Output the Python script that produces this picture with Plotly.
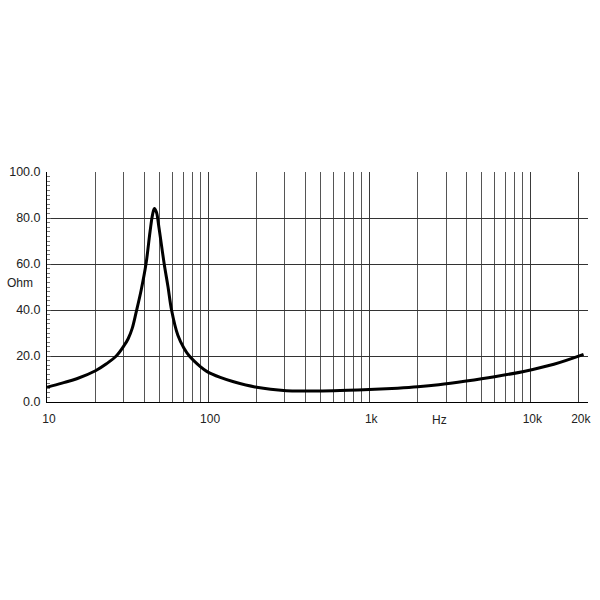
import plotly.graph_objects as go

# Impedance curve
freq_hz = [10, 12.4, 15.3, 20, 23.4, 26.9, 30.2, 31.9, 33.8, 35.8, 38.4, 41.2, 43.6, 45.2, 46.4,
           47.8, 49.5, 53.4, 56.4, 59.3, 64.9, 70.7, 76.5, 89.8, 98.6, 119, 144, 200, 306, 400,
           600, 1000, 1500, 2000, 2700, 4000, 6000, 9100, 14000, 21400]
impedance_ohm = [6.4, 8.2, 10.1, 13.6, 16.6, 20.0, 24.7, 27.5, 32.0, 39.2, 48.6, 60.2, 74.0, 81.5, 84.1,
                 82.5, 76.0, 60.0, 50.0, 40.0, 29.0, 23.5, 20.0, 15.3, 13.2, 10.7, 8.8, 6.4, 4.9, 4.75,
                 4.85, 5.4, 6.0, 6.6, 7.5, 9.1, 11.0, 13.3, 16.4, 20.7]

x_major_vals = [10, 100, 1000, 10000, 20000]
x_major_text = ["10", "100", "1k", "10k", "20k"]
x_minor_vals = [20, 30, 40, 50, 60, 70, 80, 90,
                200, 300, 400, 500, 600, 700, 800, 900,
                2000, 3000, 4000, 5000, 6000, 7000, 8000, 9000]
y_vals = [0, 20, 40, 60, 80, 100]
y_text = ["0.0", "20.0", "40.0", "60.0", "80.0", "100.0"]

FONT = "Liberation Sans, Arial, sans-serif"

fig = go.Figure()
fig.add_trace(go.Scatter(
    x=freq_hz, y=impedance_ohm, mode="lines",
    line=dict(color="black", width=3, shape="spline", smoothing=1.0),
    hoverinfo="skip", showlegend=False,
))

fig.update_layout(
    width=600, height=600, autosize=False,
    margin=dict(l=45, r=9, t=172, b=198, pad=0),
    paper_bgcolor="white", plot_bgcolor="white",
    font=dict(family=FONT, size=12, color="#222"),
    showlegend=False,
)

fig.update_xaxes(
    type="log", range=[1, 4.358],
    tickmode="array", tickvals=x_major_vals, ticktext=x_major_text,
    ticks="", showgrid=True, gridcolor="#3a3a3a", gridwidth=1,
    minor=dict(tickmode="array", tickvals=x_minor_vals, showgrid=True,
               gridcolor="#555555", gridwidth=1, ticks=""),
    showline=True, linecolor="black", linewidth=1,
    zeroline=False, ticklabelstandoff=6, ticklabelshift=2,
    tickfont=dict(family=FONT, size=12, color="#222"),
)

fig.update_yaxes(
    range=[0, 100],
    tickmode="array", tickvals=y_vals, ticktext=y_text,
    ticks="inside", ticklen=4, tickcolor="#555",
    showgrid=True, gridcolor="#333333", gridwidth=1,
    minor=dict(dtick=2, ticks="inside", ticklen=3, tickcolor="#777", showgrid=False),
    showline=True, linecolor="black", linewidth=1,
    zeroline=False, ticklabelstandoff=3,
    tickfont=dict(family=FONT, size=12.5, color="#222"),
)

fig.add_annotation(text="Hz", xref="paper", yref="paper", x=0.7253, y=-0.078,
                   showarrow=False, xanchor="center", yanchor="middle",
                   font=dict(family=FONT, size=12, color="#222"))
fig.add_annotation(text="Ohm", xref="paper", yref="paper", x=-0.0504, y=0.5167,
                   showarrow=False, xanchor="center", yanchor="middle",
                   font=dict(family=FONT, size=12, color="#222"))

fig.write_html("out.html")
